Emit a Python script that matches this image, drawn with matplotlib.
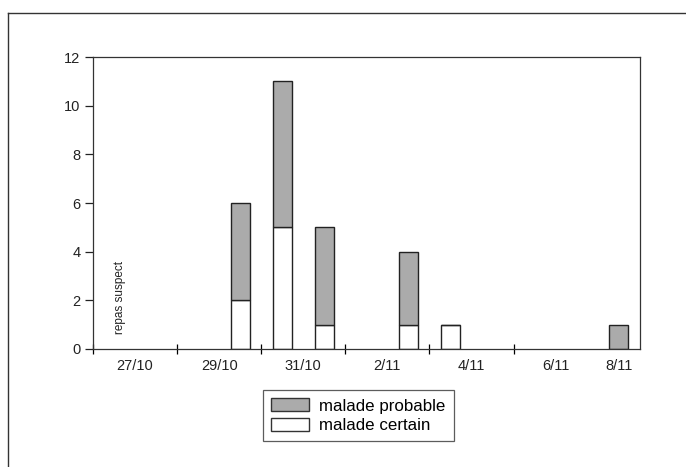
import pandas as pd
import numpy as np
import matplotlib
matplotlib.use('Agg')
import matplotlib.pyplot as plt
from matplotlib.patches import Patch
from matplotlib.lines import Line2D

plt.rcParams['font.family'] = ['Liberation Sans', 'DejaVu Sans']

# case counts by day of onset
start_day = '27/10'
end_day = '9/11'
onset_days = ['30/10', '31/10', '1/11', '3/11', '4/11', '8/11']
certain = [2, 5, 1, 1, 1, 0]
probable = [4, 6, 4, 3, 0, 1]
tick_labels = ['27/10', '29/10', '31/10', '2/11', '4/11', '6/11', '8/11']
y_ticks = [0, 2, 4, 6, 8, 10, 12]

def to_date(s):
    return pd.to_datetime(s + '/2000', format='%d/%m/%Y')

t0 = to_date(start_day)
x_days = np.array([(to_date(d) - t0).days for d in onset_days]) + 0.5
label_days = np.array([(to_date(d) - t0).days for d in tick_labels])
x_end = (to_date(end_day) - t0).days
label_pos = [min(d + 1, (d + x_end) / 2) for d in label_days]

fig = plt.figure(figsize=(6.86, 4.67), dpi=100)
ax = fig.add_axes([0.1356, 0.2527, 0.797, 0.625])

grey = '#ababab'
w = 0.45
ax.bar(x_days, certain, width=w, color='white', edgecolor='#222222', linewidth=1.0)
ax.bar(x_days, probable, width=w, bottom=certain, color=grey, edgecolor='#222222', linewidth=1.0)

ax.set_xlim(0, x_end)
ax.set_ylim(0, 12)
ax.set_yticks(y_ticks)
ax.tick_params(axis='y', direction='out', length=6, width=0.9, pad=3, labelsize=10.5, colors='#222222')
for lb in ax.get_yticklabels():
    lb.set_fontweight('medium')

ax.set_xticks(label_days[:-1])
ax.set_xticklabels([])
ax.set_xticks(label_pos, minor=True)
ax.set_xticklabels(tick_labels, minor=True, fontweight='medium')
ax.tick_params(axis='x', which='major', direction='inout', length=7, width=0.9)
ax.tick_params(axis='x', which='minor', length=0, pad=7, labelsize=10.5, colors='#222222')

for s in ax.spines.values():
    s.set_linewidth(0.9)
    s.set_color('#333333')

ax.text(0.65, 0.6, 'repas suspect', rotation=90, fontsize=8.5, ha='center', va='bottom', color='#222222')

handles = [Patch(facecolor=grey, edgecolor='#333333', label='malade probable'),
           Patch(facecolor='white', edgecolor='#333333', label='malade certain')]
leg = fig.legend(handles=handles, loc='upper left', bbox_to_anchor=(263 / 686, 1 - 390 / 467),
                 fontsize=12.2, frameon=True, fancybox=False, handlelength=2.2, handleheight=0.8,
                 borderpad=0.5, labelspacing=0.22, handletextpad=0.6, borderaxespad=0)
leg.get_frame().set_edgecolor('#333333')
leg.get_frame().set_linewidth(0.9)

# outer frame of the figure panel
fig.add_artist(Line2D([8 / 686, 1], [1 - 13 / 467, 1 - 13 / 467], transform=fig.transFigure, color='#333333', lw=1.0))
fig.add_artist(Line2D([8 / 686, 8 / 686], [1 - 13 / 467, 0], transform=fig.transFigure, color='#333333', lw=1.0))

fig.savefig('out.png', dpi=100)
